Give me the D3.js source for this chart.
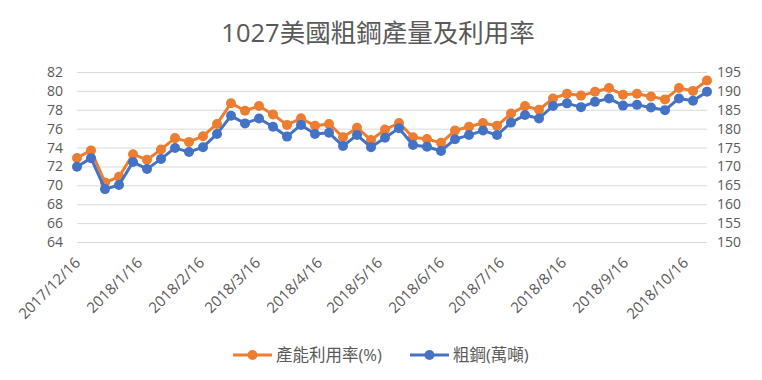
<!DOCTYPE html>
<html>
<head>
<meta charset="utf-8">
<script src="https://cdn.jsdelivr.net/npm/d3@7/dist/d3.min.js"></script>
<style>
  html, body { margin: 0; padding: 0; background: #fff; }
  svg text { font-family: "Open Sans", "Noto Sans CJK TC", sans-serif; fill: #595959; }
</style>
</head>
<body>
<div id="chart"></div>
<script>
// 週資料 (每週六)
const dates = [
  '2017/12/16', '2017/12/23', '2017/12/30', '2018/1/6', '2018/1/13', '2018/1/20', '2018/1/27',
  '2018/2/3', '2018/2/10', '2018/2/17', '2018/2/24', '2018/3/3', '2018/3/10', '2018/3/17',
  '2018/3/24', '2018/3/31', '2018/4/7', '2018/4/14', '2018/4/21', '2018/4/28', '2018/5/5',
  '2018/5/12', '2018/5/19', '2018/5/26', '2018/6/2', '2018/6/9', '2018/6/16', '2018/6/23',
  '2018/6/30', '2018/7/7', '2018/7/14', '2018/7/21', '2018/7/28', '2018/8/4', '2018/8/11',
  '2018/8/18', '2018/8/25', '2018/9/1', '2018/9/8', '2018/9/15', '2018/9/22', '2018/9/29',
  '2018/10/6', '2018/10/13', '2018/10/20', '2018/10/27'
];

// 產能利用率(%)
const utilization = [
  72.9, 73.7, 70.3, 70.9, 73.3, 72.7, 73.8, 75.0, 74.6, 75.2, 76.5, 78.7, 77.9, 78.4, 77.5, 76.4,
  77.1, 76.3, 76.5, 75.1, 76.1, 74.8, 75.9, 76.6, 75.1, 74.9, 74.5, 75.8, 76.2, 76.6, 76.3, 77.6,
  78.4, 78.0, 79.2, 79.7, 79.5, 79.9, 80.3, 79.6, 79.7, 79.4, 79.1, 80.3, 80.0, 81.1
];

// 粗鋼(萬噸)
const crudeSteel = [
  169.9, 172.2, 164.0, 165.1, 171.2, 169.3, 172.0, 174.9, 173.8, 175.1, 178.6, 183.4, 181.4, 182.7,
  180.5, 177.9, 181.0, 178.6, 178.9, 175.4, 178.3, 175.1, 177.6, 180.1, 175.7, 175.2, 174.1, 177.2,
  178.3, 179.5, 178.3, 181.6, 183.6, 182.7, 186.0, 186.7, 185.7, 187.1, 188.0, 186.1, 186.3, 185.6,
  184.9, 188.0, 187.4, 189.8
];

const xTickLabels = [
  '2017/12/16', '2018/1/16', '2018/2/16', '2018/3/16', '2018/4/16', '2018/5/16',
  '2018/6/16', '2018/7/16', '2018/8/16', '2018/9/16', '2018/10/16'
];
const leftTicks = [64, 66, 68, 70, 72, 74, 76, 78, 80, 82];
const rightTicks = [150, 155, 160, 165, 170, 175, 180, 185, 190, 195];

const seriesNames = ['產能利用率(%)', '粗鋼(萬噸)'];
const seriesColors = ['#ED7D31', '#4472C4'];

const parse = d3.timeParse('%Y/%m/%d');
const width = 762, height = 380;
const plot = { left: 77, right: 707, top: 72, bottom: 242 };

const svg = d3.select('#chart').append('svg')
  .attr('width', width)
  .attr('height', height);

const x = d3.scaleTime()
  .domain([parse(dates[0]), parse(dates[dates.length - 1])])
  .range([plot.left, plot.right]);
const yL = d3.scaleLinear().domain([64, 82]).range([plot.bottom, plot.top]);
const yR = d3.scaleLinear().domain([150, 195]).range([plot.bottom, plot.top]);

// 標題
svg.append('text')
  .attr('x', 378)
  .attr('y', 42)
  .attr('text-anchor', 'middle')
  .style('font-size', '25.5px')
  .text('1027美國粗鋼產量及利用率');

// 格線 + 左軸
const gL = svg.append('g')
  .attr('transform', `translate(${plot.left},0)`)
  .call(d3.axisLeft(yL).tickValues(leftTicks).tickSize(-(plot.right - plot.left)).tickPadding(14));
gL.select('.domain').remove();
gL.selectAll('.tick line').attr('stroke', '#d9d9d9');
gL.selectAll('.tick text').style('font-size', '14px').style('fill', '#595959');

// 右軸
const gR = svg.append('g')
  .attr('transform', `translate(${plot.right},0)`)
  .call(d3.axisRight(yR).tickValues(rightTicks).tickSize(0).tickPadding(10));
gR.select('.domain').remove();
gR.selectAll('.tick text').style('font-size', '14px').style('fill', '#595959');

// X 軸
const gX = svg.append('g')
  .attr('transform', `translate(0,${plot.bottom})`)
  .call(d3.axisBottom(x).tickValues(xTickLabels.map(parse)).tickSize(0).tickFormat(d3.timeFormat('%Y/%-m/%-d')));
gX.select('.domain').remove();
gX.selectAll('.tick text')
  .style('font-size', '15px')
  .style('fill', '#595959')
  .attr('text-anchor', 'end')
  .attr('dy', '0.35em')
  .attr('transform', 'translate(0,18) rotate(-45)')
  .attr('y', 0)
  .attr('x', 0);

// 線與標記
const series = [
  { values: utilization, y: yL },
  { values: crudeSteel, y: yR }
];

series.forEach((s, i) => {
  const pts = dates.map((d, j) => ({ date: parse(d), v: s.values[j] }));
  const line = d3.line().x(d => x(d.date)).y(d => s.y(d.v));
  svg.append('path')
    .datum(pts)
    .attr('d', line)
    .attr('fill', 'none')
    .attr('stroke', seriesColors[i])
    .attr('stroke-width', 3)
    .attr('stroke-linejoin', 'round');
  svg.append('g').selectAll('circle')
    .data(pts)
    .enter()
    .append('circle')
    .attr('cx', d => x(d.date))
    .attr('cy', d => s.y(d.v))
    .attr('r', 5)
    .attr('fill', seriesColors[i]);
});

// 圖例
const legendX = [233, 410];
const legend = svg.selectAll('.legend')
  .data(seriesNames)
  .enter()
  .append('g')
  .attr('transform', (d, i) => `translate(${legendX[i]},355)`);
legend.append('line')
  .attr('x1', 0).attr('x2', 39)
  .attr('stroke', (d, i) => seriesColors[i])
  .attr('stroke-width', 3);
legend.append('circle')
  .attr('cx', 19.5).attr('r', 5)
  .attr('fill', (d, i) => seriesColors[i]);
legend.append('text')
  .attr('x', 43)
  .attr('dy', '0.35em')
  .style('font-size', '16.5px')
  .text(d => d);
</script>
</body>
</html>
